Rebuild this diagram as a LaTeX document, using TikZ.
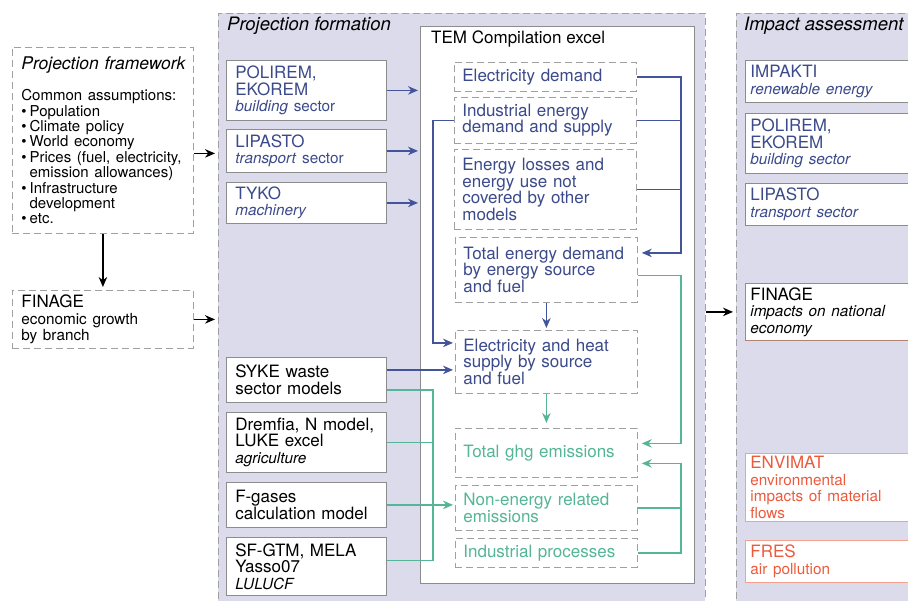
\documentclass[tikz,border=0pt]{standalone}
\usepackage{fontspec}
\setmainfont{TeX Gyre Heros}
\usepackage{xcolor}
\usepackage{tikz}
\usetikzlibrary{arrows.meta,positioning,calc}
\definecolor{lav}{HTML}{DCDBEB}
\definecolor{dgray}{HTML}{A0A0A0}
\definecolor{bgray}{HTML}{8C8C8C}
\definecolor{tblue}{HTML}{3B4A8A}
\definecolor{lblue}{HTML}{42549A}
\definecolor{tgreen}{HTML}{55B597}
\definecolor{torange}{HTML}{EC5A3C}
\definecolor{fbrown}{HTML}{B08470}
\definecolor{osalmon}{HTML}{F2A28F}
\newcommand{\bodyfont}{\fontsize{17}{16.5}\selectfont}
\newcommand{\subfont}{\fontsize{15.3}{16.5}\selectfont}
\newcommand{\titlefont}{\fontsize{18.5}{20}\selectfont\itshape}
\newcommand{\fwfont}{\fontsize{15}{15.4}\selectfont}
\newcommand{\itm}{\textbullet\hspace{3pt}}
\newcommand{\itc}{\phantom{\textbullet}\hspace{3pt}}

\begin{document}
\begin{tikzpicture}[x=1pt, y=-1pt,
    every node/.style={font=\bodyfont, inner sep=0pt},
    panel/.style={fill=lav, draw=dgray, dash pattern=on 7pt off 4pt, line width=0.8pt, anchor=north west},
    fbox/.style={fill=white, draw=dgray, dash pattern=on 7pt off 4pt, line width=0.8pt, anchor=north west, align=left, inner xsep=9pt, text width=163pt},
    mbox/.style={fill=white, draw=bgray, line width=0.8pt, anchor=north west, align=left, inner xsep=9pt, text width=142pt},
    rbox/.style={mbox, inner xsep=5pt, text width=160pt},
    dbox/.style={draw=dgray, dash pattern=on 7pt off 4pt, line width=0.8pt, anchor=north west, align=left, inner xsep=8pt, text width=166pt, text=tblue},
    bline/.style={draw=lblue, line width=1.3pt},
    gline/.style={draw=tgreen, line width=1.3pt},
    tip/.style={-{Stealth[length=10pt, width=8.5pt]}, shorten >=2pt},
    karrow/.style={draw=black, line width=1.3pt, -{Stealth[length=10pt, width=8.5pt]}, shorten >=3pt}]
  \useasboundingbox (0,0) rectangle (908,600);
  \clip (0,0) rectangle (908,600);

  % panels
  \node[panel, minimum width=487pt, minimum height=592pt] (projform) at (218,13) {};
  \node[panel, minimum width=190pt, minimum height=592pt] (impact) at (736,13) {};
  \node[anchor=north west, font=\titlefont] (pftitle) at (227,17) {Projection formation};
  \node[anchor=north west, font=\titlefont] (iatitle) at (744,17) {Impact assessment};

  % left column
  \node[fbox, minimum height=186pt] (fwk) at (12,47) {\mbox{\fontsize{17.5}{20}\selectfont\itshape Projection framework}\\[16pt]
    {\fwfont Common assumptions:\\
    \itm Population\\
    \itm Climate policy\\
    \itm World economy\\
    \itm Prices (fuel, electricity,\\
    \itc emission allowances)\\
    \itm Infrastructure\\
    \itc development\\
    \itm etc.\par}};
  \node[fbox, minimum height=58pt] (finage) at (12,290) {FINAGE\\{\subfont economic growth\\by branch}};

  % projection formation
  \node[fill=white, draw=bgray, line width=0.8pt, anchor=north west, minimum width=274pt, minimum height=557pt] (tem) at (420,26) {};
  \node[anchor=north west] (temtitle) at (431,31) {TEM Compilation excel};

  \node[mbox, text=tblue, minimum height=60pt] (polirem) at (226,60) {POLIREM,\\EKOREM\\{\subfont\textit{building} sector}};
  \node[mbox, text=tblue, minimum height=43pt] (lipasto) at (226,129) {LIPASTO\\{\subfont\textit{transport} sector}};
  \node[mbox, text=tblue, minimum height=41pt] (tyko) at (226,182) {TYKO\\{\subfont\textit{machinery}}};
  \node[mbox, minimum height=45pt] (syke) at (226,357) {SYKE waste\\sector models};
  \node[mbox, minimum height=60pt] (dremfia) at (226,412) {Dremfia, N model,\\LUKE excel\\{\subfont\textit{agriculture}}};
  \node[mbox, minimum height=45pt] (fgas) at (226,482) {F-gases\\calculation model};
  \node[mbox, minimum height=58pt] (sfgtm) at (226,537) {SF-GTM, MELA\\Yasso07\\{\subfont\textit{LULUCF}}};

  \node[dbox, minimum height=29pt] (elecdem) at (454,62) {Electricity demand};
  \node[dbox, minimum height=46pt] (indem) at (454,97) {Industrial energy\\demand and supply};
  \node[dbox, minimum height=80pt] (losses) at (454,149) {Energy losses and\\energy use not\\covered by other\\models};
  \node[dbox, minimum height=65pt] (totdem) at (455,237) {Total energy demand\\by energy source\\and fuel};
  \node[dbox, minimum height=63pt] (elheat) at (455,330) {Electricity and heat\\supply by source\\and fuel};
  \node[dbox, text=tgreen, minimum height=49pt] (ghg) at (455,428) {Total ghg emissions};
  \node[dbox, text=tgreen, minimum height=45pt] (nonen) at (455,485) {Non-energy related\\emissions};
  \node[dbox, text=tgreen, minimum height=29pt] (indproc) at (455,538) {Industrial processes};

  % impact assessment
  \node[rbox, text=tblue, minimum height=42pt] (impakti) at (745,60) {IMPAKTI\\{\subfont\textit{renewable energy}}};
  \node[rbox, text=tblue, minimum height=60pt] (polirem2) at (745,113) {POLIREM,\\EKOREM\\{\subfont\textit{building sector}}};
  \node[rbox, text=tblue, minimum height=42pt] (lipasto2) at (745,183) {LIPASTO\\{\subfont\textit{transport sector}}};
  \node[rbox, draw=fbrown, minimum height=57pt] (finage2) at (745,283) {FINAGE\\{\subfont\itshape impacts on national\\economy}};
  \node[rbox, draw=osalmon, text=torange, minimum height=68pt] (envimat) at (745,453) {ENVIMAT\\{\subfont environmental\\impacts of material\\flows}};
  \node[rbox, draw=osalmon, text=torange, minimum height=42pt] (fres) at (745,540) {FRES\\{\subfont air pollution}};

  \coordinate (lbus) at (433,0);
  \coordinate (rbus) at (681,0);

  % blue flows
  \draw[bline, tip] (polirem.east) -- (polirem.east -| tem.west);
  \draw[bline, tip] (lipasto.east) -- (lipasto.east -| tem.west);
  \draw[bline, tip] (tyko.east) -- (tyko.east -| tem.west);
  \draw[bline, tip, shorten >=4pt] (elecdem.east) -- (elecdem.east -| rbus) |- ([yshift=17pt]totdem.east);
  \draw[bline] (indem.east) -- (indem.east -| rbus);
  \draw[bline] (losses.east) -- (losses.east -| rbus);
  \draw[bline, tip] (indem.west) -- (indem.west -| lbus) |- ([yshift=19pt]elheat.west);
  \draw[bline, tip] ([yshift=10pt]syke.east) -- ([yshift=10pt]syke.east -| elheat.west);
  \draw[bline, tip] (totdem.south) -- (elheat.north);

  % green flows
  \draw[gline, tip, shorten >=5pt] (elheat.south) -- (ghg.north);
  \draw[gline, tip, shorten >=4pt] ([yshift=-5.5pt]totdem.east) -- ([yshift=-5.5pt]totdem.east -| rbus) |- ([yshift=9.5pt]ghg.east);
  \draw[gline, tip, shorten >=4pt] (indproc.east) -- (indproc.east -| rbus) |- ([yshift=-10.5pt]ghg.east);
  \draw[gline] (nonen.east) -- (nonen.east -| rbus);
  \draw[gline] ([yshift=-10pt]syke.east) -| ([yshift=6pt]sfgtm.east -| lbus) -- ([yshift=6pt]sfgtm.east);
  \draw[gline] (dremfia.east) -- (dremfia.east -| lbus);
  \draw[gline, tip] (fgas.east) -- (fgas.east -| nonen.west);

  % black flows
  \draw[karrow] (fwk.south) -- (finage.north);
  \draw[karrow] ([yshift=-13pt]fwk.east) -- ([yshift=-13pt]fwk.east -| projform.west);
  \draw[karrow] (finage.east) -- (finage.east -| projform.west);
  \draw[karrow] (finage2.west -| projform.east) -- (finage2.west -| impact.west);
\end{tikzpicture}
\end{document}
